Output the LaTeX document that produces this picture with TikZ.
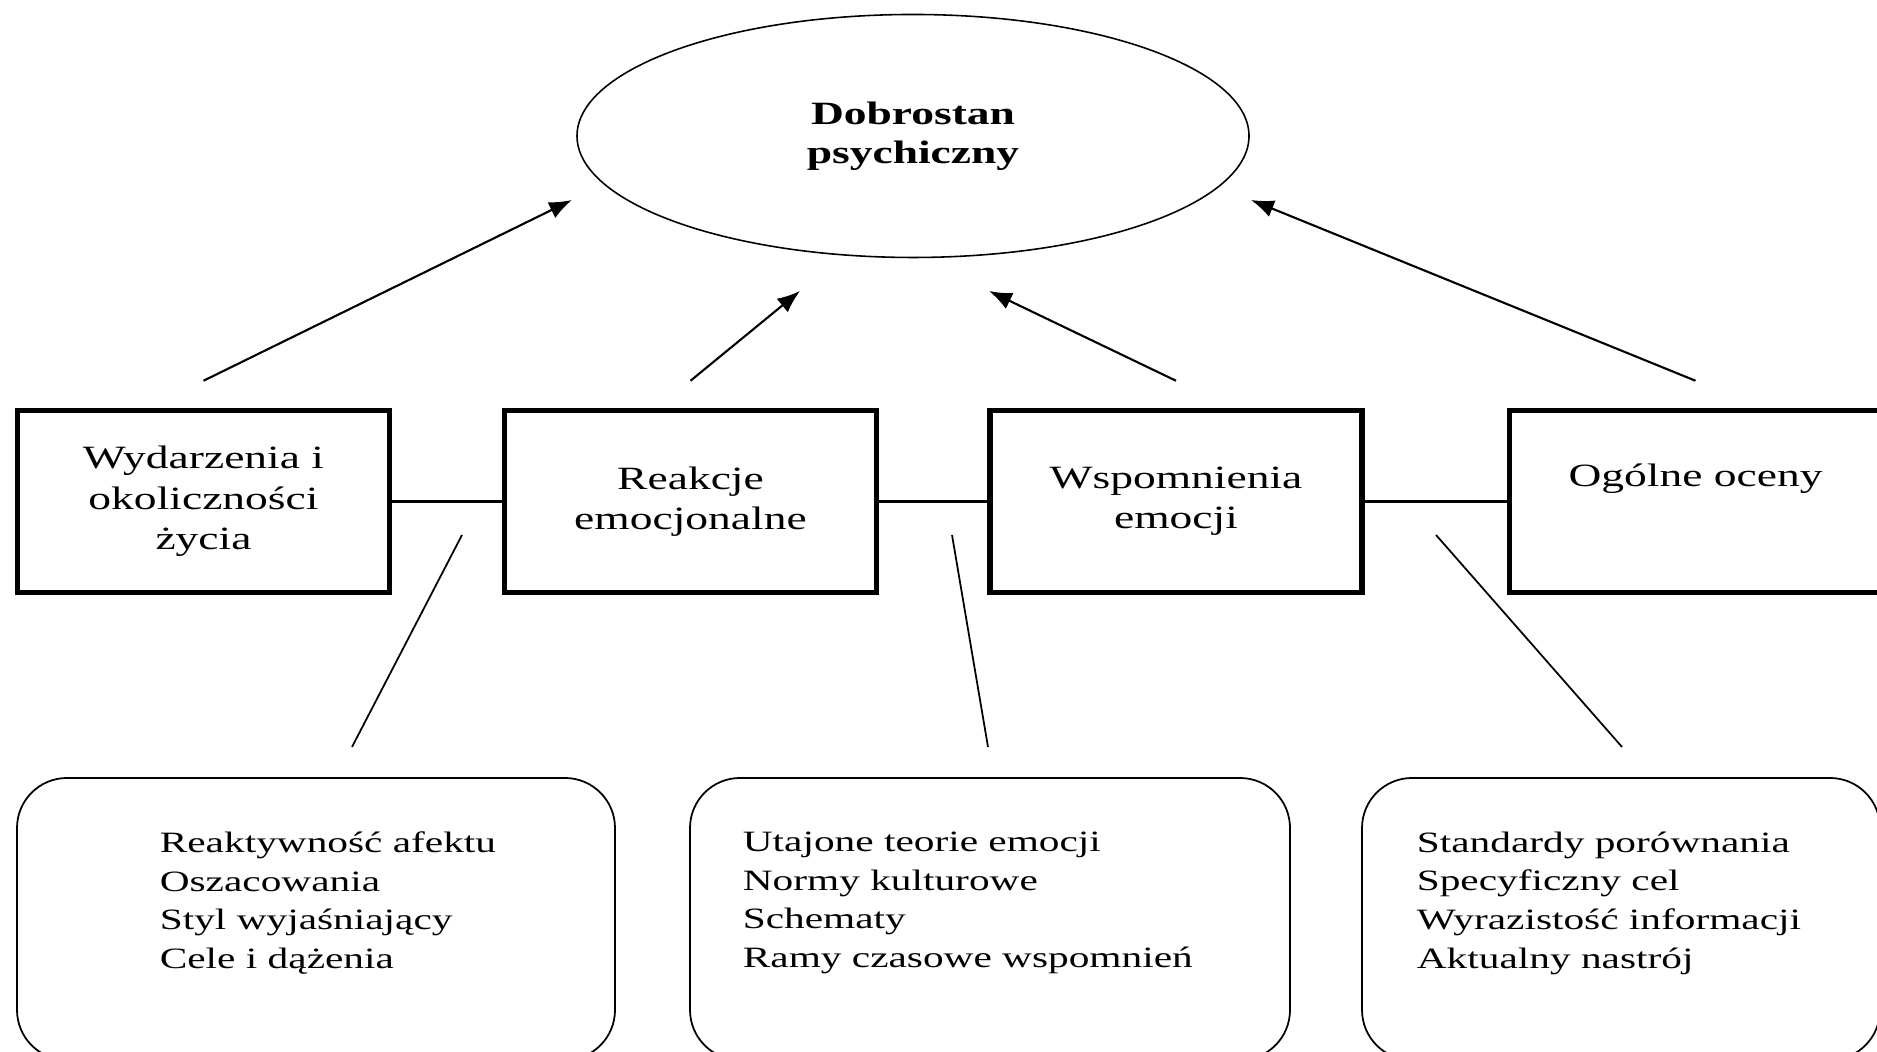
\documentclass[tikz,border=0pt]{standalone}
\usepackage{fontspec}
\setmainfont{Liberation Serif}[FakeStretch=1.4]
\usetikzlibrary{shapes.geometric,arrows.meta,positioning}

\begin{document}
\begin{tikzpicture}[>={Latex[length=6.5pt,width=5pt]},
  goal/.style={draw, ellipse, line width=0.45pt, minimum width=6.72cm,
    minimum height=2.43cm, inner sep=0pt, align=center,
    font=\fontsize{9.25}{11.1}\selectfont\bfseries},
  topbox/.style={draw, line width=1.55pt, minimum width=3.72cm,
    minimum height=1.82cm, inner sep=0pt, align=center,
    font=\fontsize{9.25}{11.5}\selectfont},
  listbox/.style={draw, line width=0.5pt, rounded corners=0.5cm,
    minimum height=2.82cm, inner sep=0pt},
  listtext/.style={inner sep=0pt, align=left,
    font=\fontsize{8.4}{11}\selectfont},
  link/.style={line width=0.75pt},
  arrow/.style={line width=0.6pt},
  thin/.style={line width=0.5pt}]

  \useasboundingbox (0,0) rectangle (18.77,10.52);

  % ── Central ellipse ───────────────────────────────────────────────────
  \node[goal] (wellbeing) at (9.13, 9.16) {Dobrostan\\psychiczny};

  % ── Row of components ─────────────────────────────────────────────────
  \node[topbox] (events)    at (2.035, 5.505) {Wydarzenia i\\okoliczności\\życia};
  \node[topbox] (reactions) at (6.905, 5.505) {Reakcje\\emocjonalne};
  \node[topbox] (memories)  at (11.76, 5.505) {Wspomnienia\\emocji};
  \node[topbox] (overall)   at (16.955, 5.505) {Ogólne oceny\\\strut};

  \draw[link] (events) -- (reactions);
  \draw[link] (reactions) -- (memories);
  \draw[link] (memories) -- (overall);

  % ── Arrows up to the ellipse ──────────────────────────────────────────
  \coordinate (tipA) at (5.72, 8.52);
  \coordinate (tipB) at (8.00, 7.61);
  \coordinate (tipC) at (9.89, 7.61);
  \coordinate (tipD) at (12.51, 8.52);

  \draw[->, arrow] ([yshift=2.7mm]events.north)    -- (tipA);
  \draw[->, arrow] ([yshift=2.7mm]reactions.north) -- (tipB);
  \draw[->, arrow] ([yshift=2.7mm]memories.north)  -- (tipC);
  \draw[->, arrow] ([yshift=2.7mm]overall.north)   -- (tipD);

  % ── Factor boxes ──────────────────────────────────────────────────────
  \node[listbox, minimum width=5.98cm] (factorsA) at (3.16, 1.33) {};
  \node[listbox, minimum width=6.00cm] (factorsB) at (9.90, 1.33) {};
  \node[listbox, minimum width=5.18cm] (factorsC) at (16.21, 1.33) {};

  \node[listtext, below right=0.54cm and 1.43cm of factorsA.north west] (itemsA)
    {Reaktywność afektu\\Oszacowania\\Styl wyjaśniający\\Cele i dążenia};
  \node[listtext, below right=0.54cm and 0.53cm of factorsB.north west] (itemsB)
    {Utajone teorie emocji\\Normy kulturowe\\Schematy\\Ramy czasowe wspomnień};
  \node[listtext, below right=0.54cm and 0.55cm of factorsC.north west] (itemsC)
    {Standardy porównania\\Specyficzny cel\\Wyrazistość informacji\\Aktualny nastrój};

  % ── Lines from factors to the links ───────────────────────────────────
  \coordinate (linkA) at (4.62, 5.17);
  \coordinate (linkB) at (9.52, 5.17);
  \coordinate (linkC) at (14.36, 5.17);
  \coordinate (footA) at (3.52, 3.05);
  \coordinate (footB) at (9.88, 3.05);
  \coordinate (footC) at (16.22, 3.05);

  \draw[thin] (linkA) -- (footA);
  \draw[thin] (linkB) -- (footB);
  \draw[thin] (linkC) -- (footC);

\end{tikzpicture}
\end{document}
